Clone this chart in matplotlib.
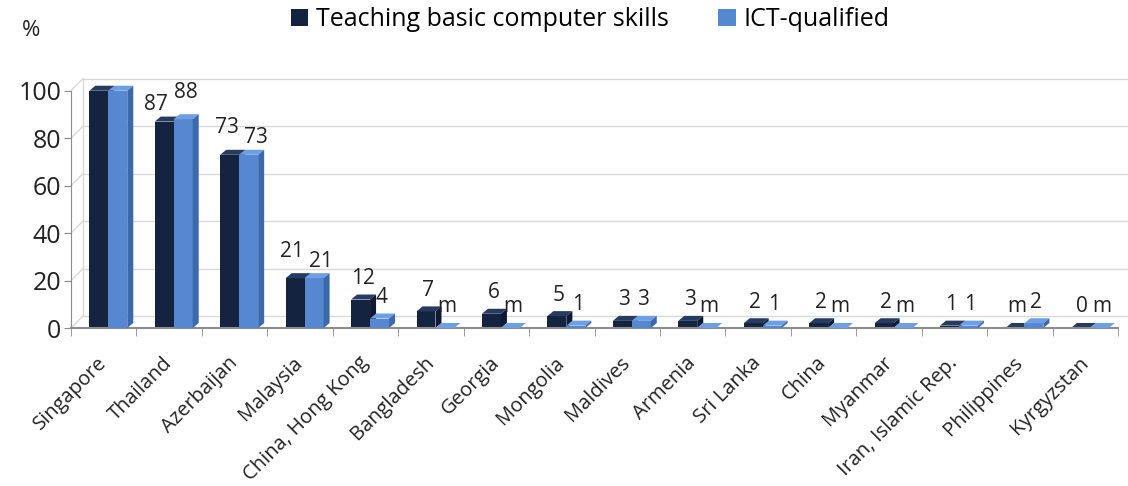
import numpy as np
import matplotlib.pyplot as plt
from matplotlib.patches import Polygon, Patch

plt.rcParams['font.family'] = ['Open Sans', 'DejaVu Sans']

countries = ['Singapore', 'Thailand', 'Azerbaijan', 'Malaysia', 'China, Hong Kong',
             'Bangladesh', 'Georgia', 'Mongolia', 'Maldives', 'Armenia', 'Sri Lanka',
             'China', 'Myanmar', 'Iran, Islamic Rep.', 'Philippines', 'Kyrgyzstan']
# None = missing ("m")
teaching = [100, 87, 73, 21, 12, 7, 6, 5, 3, 3, 2, 2, 2, 1, None, 0]
ict = [100, 88, 73, 21, 4, None, None, 1, 3, None, 1, None, None, 1, 2, None]

series = [
    ('Teaching basic computer skills', teaching, dict(front='#14233f', top='#263b60', side='#0d1a31')),
    ('ICT-qualified', ict, dict(front='#5588d1', top='#6c9fe3', side='#3c69aa')),
]

W, H = 1128, 486
fig = plt.figure(figsize=(W / 100, H / 100), dpi=100)
fig.patch.set_facecolor('white')

# axes box in pixels (from top-left)
left, right, bottom, top = 71, 1118, 328, 67
YMAX = 110
ax = fig.add_axes([left / W, (H - bottom) / H, (right - left) / W, (bottom - top) / H])
n = len(countries)
ax.set_xlim(-0.5, n - 0.5)
ax.set_ylim(0, YMAX)

px_x = (right - left) / n        # pixels per category
px_y = (bottom - top) / YMAX     # pixels per percent

# depth of the bars and of the back wall
dx, dy = 6 / px_x, 5 / px_y
gx, gy = 12 / px_x, 12 / px_y

grid_c = '#d9d9d9'
for v in range(0, 101, 20):
    ax.plot([-0.5, -0.5 + gx], [v, v + gy], color=grid_c, lw=1, zorder=0, clip_on=False)
    ax.plot([-0.5 + gx, n - 0.5 + 0.2], [v + gy, v + gy], color=grid_c, lw=1, zorder=0,
            clip_on=False)
ax.plot([-0.5 + gx, -0.5 + gx], [gy, 100 + gy], color=grid_c, lw=1, zorder=0)

x = np.arange(n)
bw = 0.29
starts = [-0.22, -0.22 + bw]
heights = []

for k, (name, vals, col) in enumerate(series):
    h = np.array([0 if v is None else v for v in vals], dtype=float)
    heights.append(h)
    x0 = x + starts[k]
    z = 2 + k
    ax.bar(x0, h, width=bw, align='edge', color=col['front'], zorder=z, linewidth=0)
    for xi, hi in zip(x0, h):
        ax.add_patch(Polygon([(xi, hi), (xi + bw, hi), (xi + bw + dx, hi + dy), (xi + dx, hi + dy)],
                             closed=True, facecolor=col['top'], edgecolor='none', zorder=z))
        ax.add_patch(Polygon([(xi + bw, 0), (xi + bw + dx, dy), (xi + bw + dx, hi + dy), (xi + bw, hi)],
                             closed=True, facecolor=col['side'], edgecolor='none', zorder=z))

# value labels; stagger the pair when two wide labels would sit side by side
for i in range(n):
    txt = ['m' if s[1][i] is None else str(s[1][i]) for s in series]
    h0, h1 = heights[0][i], heights[1][i]
    offs = [(2, 21), (2, 21)]
    if abs(h0 - h1) * px_y < 8 and (len(txt[0]) + len(txt[1])) * 5.5 > bw * px_x:
        if h0 >= h1:
            offs = [(-3, 27), (7, 17)]
        else:
            offs = [(-8, 17), (3, 27)]
    for k, (name, vals, col) in enumerate(series):
        v = vals[i]
        if v is not None and v >= 100:
            continue
        ax.annotate(txt[k], xy=(i + starts[k] + bw / 2, heights[k][i]),
                    xytext=offs[k], textcoords='offset pixels',
                    ha='center', va='center', fontsize=15, color='#222222', zorder=5)

# axes styling
for s in ['top', 'right']:
    ax.spines[s].set_visible(False)
ax.spines['left'].set_bounds(0, 100)
ax.spines['left'].set_color('#8c8c8c')
ax.spines['bottom'].set_color('#8c8c8c')
ax.spines['bottom'].set_linewidth(1.5)
ax.set_yticks(range(0, 101, 20))
ax.tick_params(axis='y', direction='out', length=5, color='#8c8c8c', labelsize=18,
               labelcolor='#222222', pad=2)
ax.set_xticks(x, countries, rotation=45, ha='right', va='center', rotation_mode='anchor')
ax.set_xticks(np.arange(-0.5, n, 1), minor=True)
ax.tick_params(axis='x', which='major', length=0, pad=23, labelsize=14.5, labelcolor='#222222')
ax.tick_params(axis='x', which='minor', length=6, color='#8c8c8c')

fig.text(22 / W, 1 - 31 / H, '%', fontsize=16, color='#222222', va='center', ha='left')

handles = [Patch(facecolor=c['front'], label=name) for name, _, c in series]
fig.legend(handles=handles, loc='center', bbox_to_anchor=(590 / W, 1 - 20 / H), ncol=2,
           frameon=False, fontsize=18, handlelength=0.7, handleheight=0.7,
           handletextpad=0.3, columnspacing=2.0, borderpad=0)

fig.savefig('out.png', dpi=100)
